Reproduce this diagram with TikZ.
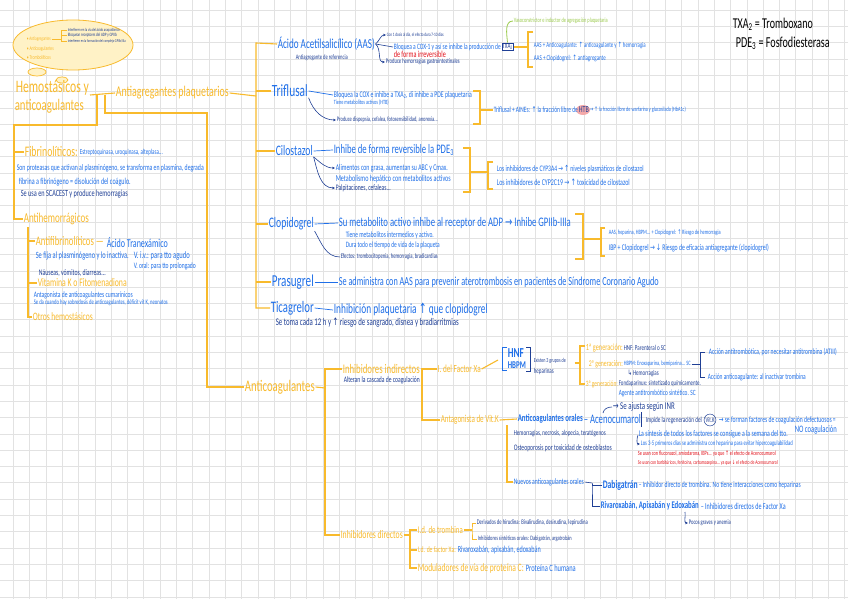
\documentclass[tikz,border=0pt]{standalone}
\usepackage{fontspec}
\usepackage{graphicx}
\setmainfont{Carlito}
\newfontfamily\symf{DejaVu Sans}
\usetikzlibrary{arrows.meta,calc}
\newcommand{\wfit}[2]{\resizebox{#1pt}{!}{\scalebox{1}[1.5]{#2}}}
\newcommand{\UP}{{\symf ↑}}
\newcommand{\DN}{{\symf ↓}}
\newcommand{\RA}{{\symf →}}
\newcommand{\HK}{{\symf ↳}}
\definecolor{og}{HTML}{F8BA2C}
\definecolor{bl}{HTML}{1F6FE8}
\definecolor{nv}{HTML}{1F3F95}
\definecolor{rd}{HTML}{E3121B}
\definecolor{gr}{HTML}{9CCB4E}
\definecolor{gridc}{HTML}{E2E2E2}
\definecolor{yel}{HTML}{FFF2C6}
\definecolor{pinkc}{HTML}{F4A9A9}
\begin{document}
\begin{tikzpicture}[x=1pt,y=-1pt,
  t/.style={anchor=west,inner sep=0pt,outer sep=0.8pt},
  O/.style={t,text=og},
  B/.style={t,text=bl},
  N/.style={t,text=nv},
  R/.style={t,text=rd},
  K/.style={t,text=black},
  ol/.style={draw=og,line width=1.1pt},
  nl/.style={draw=nv,line width=0.6pt},
  bln/.style={draw=bl,line width=0.7pt},
  ar/.style={nl,-{Stealth[length=3pt,width=2.6pt]}}]
\useasboundingbox (0,0) rectangle (848,599);
\fill[white] (0,0) rectangle (848,599);
\foreach \i in {0,...,52}{\draw[gridc,line width=0.5pt] ({13.3+16.3*(\i-1)},0) -- ({13.3+16.3*(\i-1)},599);}
\foreach \j in {0,...,37}{\draw[gridc,line width=0.5pt] (0,{10+16.3*(\j-1)}) -- (848,{10+16.3*(\j-1)});}

% ---------- thought bubble ----------
\draw[og,fill=yel,line width=0.8pt] (73,45) ellipse [x radius=60,y radius=25];
\draw[og,fill=yel,line width=0.7pt] (37,72) ellipse [x radius=9,y radius=4];
\draw[og,fill=yel,line width=0.7pt] (62,80) ellipse [x radius=6,y radius=3];
\node[O] (b1) at (26,39) {\wfit{24}{• Antiagregantes}};
\node[O] (b2) at (26,49) {\wfit{27}{• Anticoagulantes}};
\node[O] (b3) at (26,58) {\wfit{24}{• Trombolíticos}};
\node[N] (bi1) at (67,30) {\wfit{52}{Interfieren en la vía del ácido araquidónico}};
\node[N] (bi2) at (67,35.5) {\wfit{49}{Bloquean receptores del ADP y GPIIb}};
\node[N] (bi3) at (67,41) {\wfit{58}{Interfieren en la formación del complejo GPIIb/IIIa}};
\draw[og,line width=0.6pt] (b1.east) -- (61,39);
\draw[og,line width=0.6pt] (bi1.west) -| (61,41) -- (bi3.west);
\draw[og,line width=0.6pt] (61,35.5) -- (bi2.west);

% ---------- title ----------
\node[O] (hem1) at (15,88) {\wfit{73}{Hemostásicos y}};
\node[O] (hem2) at (14,106) {\wfit{69}{anticoagulantes}};
\node[O] (antiag) at (115,93) {\wfit{113}{Antiagregantes plaquetarios}};
\coordinate (tj) at (90,95);
\draw[ol] (tj) -- (antiag.west);

% ---------- left column ----------
\node[O] (fib) at (24,152) {\wfit{53}{Fibrinolíticos:}};
\node[B] (fib0) at (79,152) {\wfit{83}{Estreptoquinasa, uroquinasa, alteplasa...}};
\node[B] (fib1) at (16,168) {\wfit{187}{Son proteasas que activan al plasminógeno, se transforma en plasmina, degrada}};
\node[B] (fib2) at (18,182) {\wfit{112}{fibrina a fibrinógeno = disolución del coágulo.}};
\node[N] (fib3) at (20,194) {\wfit{107}{Se usa en SCACEST y produce hemorragias}};
\node[O] (ahem) at (23,219) {\wfit{65}{Antihemorrágicos}};
\draw[ol] (97,95) -- (97,125) -- (14,125) |- (ahem.west);
\draw[ol] (14,152) -- (fib.west);

\node[O] (afib) at (35,241) {\wfit{68}{Antifibrinolíticos —}};
\node[B] (atx) at (106,243) {\wfit{61}{Ácido Tranexámico}};
\node[B] (afib1) at (35,256) {\wfit{93}{Se fija al plasminógeno y lo inactiva.}};
\node[B] (afib2) at (133,256) {\wfit{56}{V. i.v.: para tto agudo}};
\node[B] (afib3) at (133,266) {\wfit{62}{V. oral: para tto prolongado}};
\node[N] (afib4) at (38,273) {\wfit{67}{Náuseas, vómitos, diarreas...}};
\node[O] (vitk) at (37,283) {\wfit{89}{Vitamina K o Fitomenadiona}};
\node[B] (vitk1) at (33,295) {\wfit{99}{Antagonista de anticoagulantes cumarínicos}};
\node[B] (vitk2) at (33,303) {\wfit{134}{Se da cuando hay sobredosis de anticoagulantes, déficit vit K, neonatos}};
\node[O] (otros) at (32,317) {\wfit{60}{Otros hemostásicos}};
\draw[ol] (28,227) |- (otros.west);
\draw[ol] (28,241) -- (afib.west);
\draw[ol] (28,283) -- (vitk.west);

% ---------- antiagregantes ----------
\coordinate (vA) at (256,43);
\coordinate (vB) at (256,308);
\draw[ol] (antiag.east) -- (256,96);
\node[B] (aas) at (277,44) {\wfit{97}{Ácido Acetilsalicílico (AAS)}};
\node[N] (aasref) at (295,58) {\wfit{52}{Antiagregante de referencia}};
\node[N] (aas1) at (386,35) {\wfit{57}{Con 1 dosis al día, el efecto dura 7-10 días}};
\node[B] (aas2) at (393,47) {\wfit{107}{Bloquea a COX-1 y así se inhibe la producción de}};
\node[t,text=nv,draw=nv,line width=0.4pt,inner sep=0.7pt] (txa) at (501,47) {\wfit{10}{TXA\textsubscript{2}}};
\node[R] (aas3) at (393,54) {\wfit{52}{de forma irreversible}};
\node[N] (aas4) at (385,62) {\wfit{74}{Produce hemorragias gastrointestinales}};
\draw[ar] (aas.east) to[out=40,in=180] (aas1.west);
\draw[nl] (aas.east) -- (aas2.west);
\draw[ar] (aas.east) to[out=-40,in=180] (aas4.west);
\node[t,text=gr] (vaso) at (513,21) {\wfit{94}{Vasoconstrictor e inductor de agregación plaquetaria}};
\draw[gr,line width=0.8pt] (txa.north) to[out=95,in=180] (vaso.west);
\draw[ol] (533,32) -- (528,32) -- (528,67) -- (533,67);
\draw[ol] (txa.east) -- (528,47);
\node[B] (aasi1) at (533,45) {\wfit{112}{AAS + Anticoagulante: \UP{} anticoagulante y \UP{} hemorragia}};
\node[B] (aasi2) at (533,58) {\wfit{72}{AAS + Clopidogrel: \UP{} antiagregante}};

\node[K] (txadef) at (732,24) {\wfit{80}{TXA\textsubscript{2} = Tromboxano}};
\node[K] (pdedef) at (735,43) {\wfit{94}{PDE\textsubscript{3} = Fosfodiesterasa}};

% Triflusal
\node[B] (trif) at (271,91) {\wfit{36}{Triflusal}};
\node[B] (trif1) at (333,95) {\wfit{138}{Bloquea la COX e inhibe a TXA\textsubscript{2}, di inhibe a PDE plaquetaria}};
\node[B] (trif2) at (333,103) {\wfit{55}{Tiene metabolitos activos (HTB)}};
\node[N] (trif3) at (336,120) {\wfit{101}{Produce dispepsia, cefalea, fotosensibilidad, anorexia...}};
\draw[bln] (trif.east) -- (trif1.west);
\draw[ar] (trif.south east) to[out=-70,in=180] (trif3.west);
\draw[ol] (473,91) -- (480,91) -- (480,124) -- (473,124);
\fill[pinkc] (583,110) ellipse [x radius=7,y radius=5];
\node[B] (trifi1) at (493,110) {\wfit{84}{Triflusal + AINEs: \UP{} la fracción libre de}};
\node[t,text=nv] (htb) at (578,110) {\wfit{10}{HTB}};
\node[B] (trifi2) at (589,110) {\wfit{96}{\RA{} \UP{} la fracción libre de warfarina y glucosilada (HbA1c)}};
\draw[ol] (480,110) -- (trifi1.west);

% Cilostazol
\node[B] (cil) at (275,151) {\wfit{37}{Cilostazol}};
\node[B] (cil1) at (333,150) {\wfit{120}{Inhibe de forma reversible la PDE\textsubscript{3}}};
\node[B] (cil2) at (335,168) {\wfit{112}{Alimentos con grasa, aumentan su ABC y Cmax.}};
\node[B] (cil3) at (335,179) {\wfit{115}{Metabolismo hepático con metabolitos activos}};
\node[N] (cil4) at (335,188) {\wfit{55}{Palpitaciones, cefaleas...}};
\draw[bln] (cil.east) -- (cil1.west);
\draw[ar] (cil.south east) to[out=-40,in=180] (cil2.west);
\draw[ar] (cil.south east) to[out=-75,in=180] (cil4.west);
\draw[ol] (463,148) -- (470,148) -- (470,192) -- (463,192);
\draw[og,line width=2.2pt] (470,172) -- (488,172);
\draw[ol] (493,162) -- (488,162) -- (488,189) -- (493,189);
\node[B] (cili1) at (496,169) {\wfit{147}{Los inhibidores de CYP3A4 \RA{} \UP{} niveles plasmáticos de cilostazol}};
\node[B] (cili2) at (496,182) {\wfit{133}{Los inhibidores de CYP2C19 \RA{} \UP{} toxicidad de cilostazol}};

% Clopidogrel
\node[B] (clo) at (268,224) {\wfit{45}{Clopidogrel}};
\node[B] (clo1) at (338,223) {\wfit{232}{Su metabolito activo inhibe al receptor de ADP \RA{} Inhibe GPIIb-IIIa}};
\node[B] (clo2) at (345,235) {\wfit{88}{Tiene metabolitos intermedios y activo.}};
\node[B] (clo3) at (345,245) {\wfit{94}{Dura todo el tiempo de vida de la plaqueta}};
\node[N] (clo4) at (340,257) {\wfit{97}{Efectos: trombocitopenia, hemorragia, bradicardias}};
\draw[bln] (clo.east) -- (clo1.west);
\draw[nl] (clo.south east) to[out=-60,in=180] (clo4.west);
\draw[ol] (575,214) -- (583,214) -- (583,259) -- (575,259);
\draw[og,line width=2.2pt] (583,239) -- (601,239);
\draw[ol] (605,228) -- (601,228) -- (601,256) -- (605,256);
\node[B] (cloi1) at (608,233) {\wfit{112}{AAS, heparina, HBPM... + Clopidogrel: \UP{} Riesgo de hemorragia}};
\node[B] (cloi2) at (608,248) {\wfit{160}{IBP + Clopidogrel \RA{} \DN{} Riesgo de eficacia antiagregante (clopidogrel)}};

% Prasugrel / Ticagrelor
\node[B] (pra) at (271,282) {\wfit{42}{Prasugrel}};
\node[B] (pra1) at (338,282) {\wfit{320}{Se administra con AAS para prevenir aterotrombosis en pacientes de Síndrome Coronario Agudo}};
\draw[bln] (pra.east) -- (pra1.west);
\node[B] (tica) at (270,308) {\wfit{43}{Ticagrelor}};
\node[B] (tica1) at (333,310) {\wfit{154}{Inhibición plaquetaria \UP{} que clopidogrel}};
\node[N] (tica2) at (275,323) {\wfit{183}{Se toma cada 12 h y \UP{} riesgo de sangrado, disnea y bradiarritmias}};
\draw[bln] (tica.east) -- (tica1.west);

\draw[ol] (aas.west) -- (vA) -- (vB) -- (tica.west);
\draw[ol] (vA |- trif.west) -- (trif.west);
\draw[ol] (vA |- cil.west) -- (cil.west);
\draw[ol] (vA |- clo.west) -- (clo.west);
\draw[ol] (vA |- pra.west) -- (pra.west);

% ---------- anticoagulantes ----------
\node[O] (acg) at (244,387) {\wfit{70}{Anticoagulantes}};
\draw[ol] (105,95) -- (105,113) -- (207,113) |- (acg.west);
\node[O] (ind) at (342,369) {\wfit{77}{Inhibidores indirectos}};
\node[N] (ind1) at (343,380) {\wfit{76}{Alteran la cascada de coagulación}};
\node[O] (dir) at (340,535) {\wfit{62}{Inhibidores directos}};
\draw[ol] (acg.east) -- (325,388);
\draw[ol] (ind.west) -| (325,388) |- (dir.west);

\node[O] (fxa) at (437,369) {\wfit{43}{I. del Factor Xa}};
\node[O] (avk) at (440,420) {\wfit{58}{Antagonista de Vit.K}};
\draw[ol] (ind.east) -- (422,369);
\draw[ol] (fxa.west) -| (422,369) |- (avk.west);

\node[B] (hnf) at (507,353) {\wfit{16}{\textbf{HNF}}};
\node[B] (hbpm) at (507,365) {\wfit{18}{\textbf{HBPM}}};
\draw[ol] (fxa.east) -- (498,360);
\draw[bln] (507,347) -- (502,347) -- (502,370) -- (507,370);
\draw[nl] (526,347) -- (530,347) -- (530,371) -- (526,371);
\node[N] (exis1) at (533,361) {\wfit{32}{Existen 3 grupos de}};
\node[N] (exis2) at (533,371) {\wfit{20}{heparinas}};
\draw[ol] (exis1.east) ++(8,2) -- (580,363);
\draw[ol] (585,346) -- (580,346) -- (580,384) -- (585,384);
\node[O] (g1) at (585,348) {\wfit{37}{1ª generación:}};
\node[N] (g1b) at (623,348) {\wfit{42}{HNF: Parenteral o SC}};
\node[O] (g2) at (588,364) {\wfit{34}{2ª generación:}};
\node[B] (g2b) at (623,364) {\wfit{67}{HBPM: Enoxaparina, bemiparina... SC}};
\node[N] (g2c) at (627,373) {\wfit{31}{\HK{} Hemorragias}};
\node[O] (g3) at (585,384) {\wfit{32}{3ª generación:}};
\node[N] (g3b) at (618,384) {\wfit{82}{Fondaparinux: sintetizado químicamente.}};
\node[B] (g3c) at (618,393) {\wfit{77}{Agente antitrombótico sintético. SC}};
\draw[nl] (g2b.east) -- (700,364);
\draw[nl] (705,352) -- (700,352) -- (700,377) -- (705,377);
\node[B] (acc1) at (708,352) {\wfit{128}{Acción antitrombótica, por necesitar antitrombina (ATIII)}};
\node[B] (acc2) at (707,377) {\wfit{98}{Acción anticoagulante: al inactivar trombina}};

\node[B] (ao) at (517,419) {\wfit{65}{\textbf{Anticoagulantes orales}}};
\node[B] (aceno) at (583,419) {\wfit{57}{– Acenocumarol}};
\draw[ol] (avk.east) -- (ao.west);
\draw[nl] (641,412) -- (641,427);
\node[N] (inr) at (612,407) {\wfit{62}{\RA{} Se ajusta según INR}};
\draw[nl] (603,413) to[out=80,in=180] (inr.west);
\node[N] (imp) at (645,420) {\wfit{56}{Impide la regeneración del}};
\node[circle,draw=nv,line width=0.5pt,inner sep=0.6pt,text=nv] (vk) at (710,420) {\wfit{9}{Vit.K}};
\node[B] (imp2) at (718,420) {\wfit{117}{\RA{} se forman factores de coagulación defectuosos =}};
\node[B] (noc) at (794,430) {\wfit{42}{NO coagulación}};
\node[B] (sint) at (638,434) {\wfit{149}{La síntesis de todos los factores se consigue a la semana del tto.}};
\node[B] (hep) at (640,444) {\wfit{152}{Los 3-5 primeros días se administra con heparina para evitar hipercoagulabilidad}};
\draw[ar] (sint.west) ++(0,1) to[out=-110,in=180] (hep.west);
\node[R] (red1) at (637,454) {\wfit{138}{Se usan con fluconazol, amiodarona, IBPs... ya que \UP{} el efecto de Acenocumarol}};
\node[R] (red2) at (637,463) {\wfit{140}{Se usan con barbitúricos, fenitoína, carbamazepina... ya que \DN{} el efecto de Acenocumarol}};
\node[N] (hemo) at (513,434) {\wfit{92}{Hemorragias, necrosis, alopecia, teratógenos}};
\node[N] (osteo) at (513,448) {\wfit{98}{Osteoporosis por toxicidad de osteoblastos}};

\node[B] (nao) at (513,482) {\wfit{70}{Nuevos anticoagulantes orales}};
\draw[ol] (507,425) |- (nao.west);
\node[B] (dabi) at (602,485) {\wfit{35}{\textbf{Dabigatrán}}};
\node[B] (dabi2) at (638,485) {\wfit{162}{– Inhibidor directo de trombina. No tiene interacciones como heparinas}};
\node[B] (riva) at (600,506) {\wfit{98}{\textbf{Rivaroxabán, Apixabán y Edoxabán}}};
\node[B] (riva2) at (700,506) {\wfit{85}{– Inhibidores directos de Factor Xa}};
\node[N] (poc) at (688,523) {\wfit{42}{Pocos graves y anemia}};
\draw[ar] (685,512) to[out=-80,in=180] (poc.west);
\draw[nl] (nao.east) -- (592,483);
\draw[nl] (dabi.west) -| (592,483) |- (riva.west);

% ---------- inhibidores directos ----------
\node[O] (idt) at (417,530) {\wfit{45}{I.d. de trombina}};
\node[O] (idx) at (417,550) {\wfit{38}{I.d. de factor Xa:}};
\node[B] (idx2) at (457,550) {\wfit{83}{Rivaroxabán, apixabán, edoxabán}};
\node[O] (mod) at (417,568) {\wfit{106}{Moduladores de vía de proteína C:}};
\node[B] (mod2) at (525,568) {\wfit{50}{Proteína C humana}};
\draw[ol] (dir.east) -- (410,535);
\draw[ol] (idt.west) -| (410,535) |- (mod.west);
\draw[ol] (410,550) -- (idx.west);
\node[N] (hir) at (476,523) {\wfit{111}{Derivados de hirudina: Bivalirudina, desirudina, lepirudina}};
\node[N] (sin) at (477,539) {\wfit{94}{Inhibidores sintéticos orales: Dabigatrán, argatrobán}};
\draw[ol] (idt.east) -- (472,530);
\draw[og,line width=0.7pt] (hir.west) -| (472,530) |- (sin.west);
\end{tikzpicture}
\end{document}
